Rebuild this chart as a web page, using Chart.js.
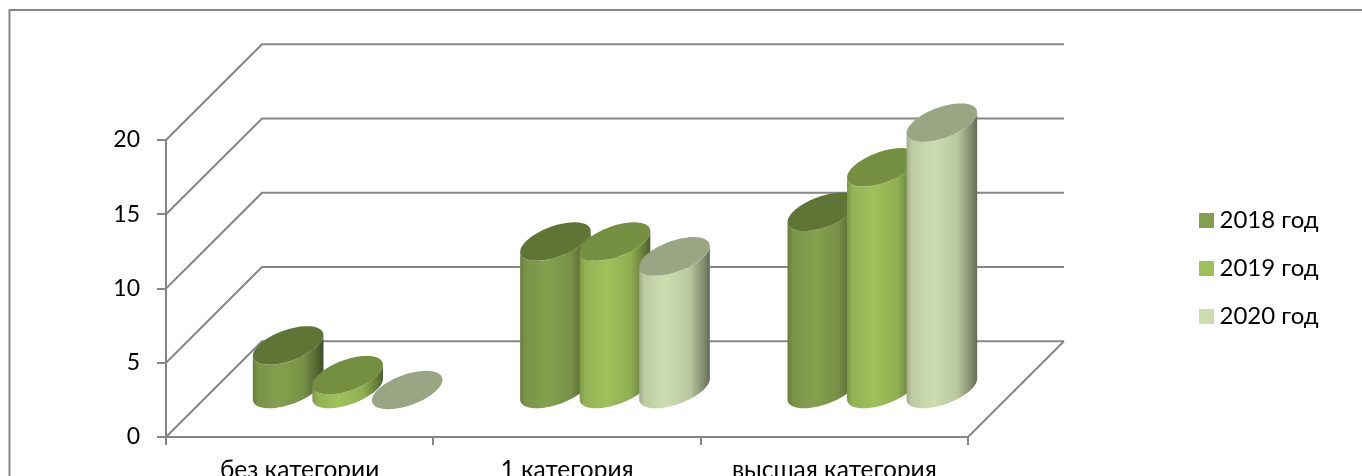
<!DOCTYPE html>
<html>
<head>
<meta charset="utf-8">
<script src="https://cdn.jsdelivr.net/npm/chart.js@4"></script>
<style>
    html, body { margin: 0; padding: 0; background: #fff; overflow: hidden; }
    canvas { display: block; }
</style>
</head>
<body>
<canvas id="chart" width="1362" height="476"></canvas>
<script>
// Chart values
const categories = ['без категории', '1 категория', 'высшая категория'];
const seriesNames = ['2018 год', '2019 год', '2020 год'];
const values2018 = [3, 10, 12];
const values2019 = [1, 10, 15];
const values2020 = [0, 9, 18];
const yMax = 20;
const yStep = 5;

// Colours: side of the cylinder, its lid
const sideColors = ['#84A04E', '#9FC15B', '#CEDDB0'];
const lidColors = ['#5F7535', '#748F40', '#9AA583'];
const lineColor = '#868686';
const fontName = 'Lato';

// Depth of the fake 3D box
const depthX = 96;
const depthY = 95.7;
const floorOffset = 47;
const lidHeight = 19.25;
const lidShear = 19;

function shade(hex, k) {
    const n = parseInt(hex.slice(1), 16);
    const c = [n >> 16, (n >> 8) & 255, n & 255].map(v => Math.round(v * k));
    return `rgb(${c[0]},${c[1]},${c[2]})`;
}

// Point on the lid ellipse
function lidPoint(cx, cy, rx, t) {
    return [cx + rx * Math.cos(t) + lidShear * Math.sin(t), cy - lidHeight * Math.sin(t)];
}

function lidPath(ctx, cx, cy, rx, from, to, moveFirst) {
    const steps = 48;
    for (let i = 0; i <= steps; i++) {
        const p = lidPoint(cx, cy, rx, from + (to - from) * i / steps);
        if (i === 0 && moveFirst) ctx.moveTo(p[0], p[1]);
        else ctx.lineTo(p[0], p[1]);
    }
}

function drawCylinder(ctx, bar, index) {
    const cx = bar.x + depthX / 2;
    const baseY = bar.base - floorOffset;
    const topY = bar.y - floorOffset;
    const rx = bar.width / 2;
    const t0 = Math.atan2(lidShear, rx);
    const halfW = Math.sqrt(rx * rx + lidShear * lidShear);
    const color = sideColors[index];

    if (baseY - topY > 0.5) {
        const grad = ctx.createLinearGradient(cx - halfW, 0, cx + halfW, 0);
        grad.addColorStop(0, shade(color, 0.78));
        grad.addColorStop(0.07, shade(color, 0.92));
        grad.addColorStop(0.38, color);
        grad.addColorStop(0.72, shade(color, 0.9));
        grad.addColorStop(0.92, shade(color, 0.62));
        grad.addColorStop(1, shade(color, 0.48));
        ctx.beginPath();
        lidPath(ctx, cx, baseY, rx, t0 + Math.PI, t0 + 2 * Math.PI, true);
        lidPath(ctx, cx, topY, rx, t0 + 2 * Math.PI, t0 + Math.PI, false);
        ctx.closePath();
        ctx.fillStyle = grad;
        ctx.fill();
    }

    ctx.beginPath();
    lidPath(ctx, cx, topY, rx, 0, 2 * Math.PI, true);
    ctx.closePath();
    ctx.fillStyle = lidColors[index];
    ctx.fill();
}

// Legend swatch as a small canvas, so the gap to the text can be narrow
function makeSwatch(color) {
    const swatch = document.createElement('canvas');
    swatch.width = 15;
    swatch.height = 15;
    const c = swatch.getContext('2d');
    c.fillStyle = color;
    c.fillRect(0, 0, 15, 15);
    return swatch;
}

// Walls, floor and the cylinders, all placed from the chart scales
const box3d = {
    id: 'box3d',
    beforeDraw(chart) {
        // outer frame, cut off by the window at the right and bottom
        const ctx = chart.ctx;
        ctx.save();
        ctx.strokeStyle = lineColor;
        ctx.lineWidth = 2;
        ctx.beginPath();
        ctx.moveTo(9.5, 476);
        ctx.lineTo(9.5, 10);
        ctx.lineTo(1362, 10);
        ctx.stroke();
        ctx.restore();
    },
    afterLayout(chart) {
        // move the legend out of the chart area, to the right
        const legend = chart.legend;
        legend.left = 1180.5;
        legend.right = 1362;
        legend.top = 184;
        legend.bottom = 476;
    },
    beforeDatasetsDraw(chart) {
        const ctx = chart.ctx;
        const x = chart.scales.x;
        const y = chart.scales.y;
        const left = x.left;
        const right = x.right;

        ctx.save();
        ctx.strokeStyle = lineColor;
        ctx.lineWidth = 2;
        for (let v = 0; v <= yMax; v += yStep) {
            const py = y.getPixelForValue(v);
            ctx.beginPath();
            ctx.moveTo(left, py);
            ctx.lineTo(left + depthX, py - depthY);
            ctx.lineTo(right + depthX, py - depthY);
            ctx.stroke();
        }
        const floorY = y.getPixelForValue(0);
        ctx.beginPath();
        ctx.moveTo(right, floorY);
        ctx.lineTo(right + depthX, floorY - depthY);
        ctx.stroke();
        ctx.restore();

        categories.forEach((cat, c) => {
            seriesNames.forEach((name, s) => {
                drawCylinder(ctx, chart.getDatasetMeta(s).data[c], s);
            });
        });
        return false;
    }
};

new Chart(document.getElementById('chart'), {
    type: 'bar',
    data: {
        labels: categories,
        datasets: [
            { label: seriesNames[0], data: values2018, backgroundColor: sideColors[0] },
            { label: seriesNames[1], data: values2019, backgroundColor: sideColors[1] },
            { label: seriesNames[2], data: values2020, backgroundColor: sideColors[2] }
        ]
    },
    plugins: [box3d],
    options: {
        responsive: false,
        animation: false,
        layout: { padding: { left: 0, top: 140, right: 394, bottom: 0 } },
        datasets: { bar: { categoryPercentage: 0.668, barPercentage: 1 } },
        plugins: {
            tooltip: { enabled: false },
            legend: {
                position: 'chartArea',
                align: 'start',
                labels: {
                    usePointStyle: true,
                    boxWidth: 3,
                    boxHeight: 15,
                    padding: 24,
                    color: '#000',
                    font: { family: fontName, size: 24 },
                    generateLabels(chart) {
                        const items = Chart.defaults.plugins.legend.labels.generateLabels(chart);
                        items.forEach((item, i) => { item.pointStyle = makeSwatch(sideColors[i]); });
                        return items;
                    }
                }
            }
        },
        scales: {
            x: {
                afterFit(scale) { scale.height = 39; },
                grid: { drawOnChartArea: false, color: lineColor, lineWidth: 2, tickLength: 8 },
                border: { color: lineColor, width: 2 },
                ticks: {
                    color: '#000',
                    padding: 10,
                    autoSkip: false,
                    maxRotation: 0,
                    font: { family: fontName, size: 24.5 }
                }
            },
            y: {
                min: 0,
                max: yMax,
                afterFit(scale) { scale.width = 166; },
                grid: { drawOnChartArea: false, color: lineColor, lineWidth: 2, tickLength: 9 },
                border: { color: lineColor, width: 2 },
                ticks: {
                    stepSize: yStep,
                    color: '#000',
                    padding: 17,
                    font: { family: fontName, size: 23 }
                }
            }
        }
    }
});
</script>
</body>
</html>
